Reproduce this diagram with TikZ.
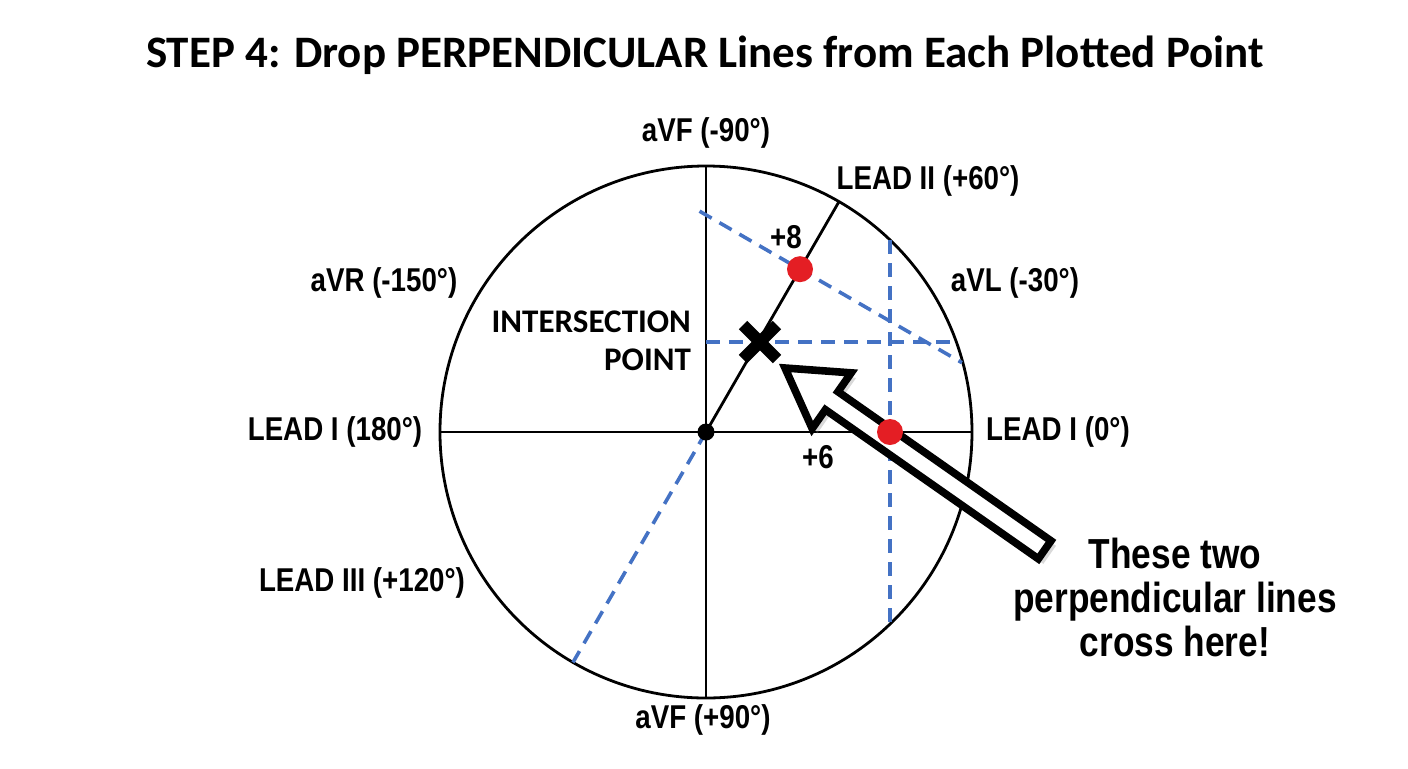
\documentclass[tikz,border=0pt]{standalone}
\usepackage{fontspec}
\setmainfont{Carlito}
\newfontfamily\lblfont{Liberation Sans}[FakeStretch=0.84]
\usetikzlibrary{shadows}
\definecolor{dashblue}{RGB}{68,114,196}
\definecolor{dotred}{RGB}{228,30,36}
\tikzset{
  lbl/.style={font=\lblfont\bfseries\fontsize{16.5}{18}\selectfont},
  ilbl/.style={font=\bfseries\fontsize{16.5}{19}\selectfont,align=right},
  biglbl/.style={font=\lblfont\bfseries\fontsize{21}{22}\selectfont,align=center},
  axis/.style={line width=1.4pt},
  perp/.style={dashblue,line width=1.8pt,dash pattern=on 7pt off 4.5pt},
  reddot/.style={circle,fill=dotred,inner sep=0pt,minimum size=13pt},
  blackdot/.style={circle,fill=black,inner sep=0pt,minimum size=8.5pt},
  xmark/.style={line width=6pt},
  bigarrow/.style={fill=white,line width=3.8pt,line join=miter,
    drop shadow={shadow xshift=2.5pt,shadow yshift=-2.5pt,opacity=0.3}}
}
\begin{document}
\begin{tikzpicture}[x=0.5pt,y=0.5pt]
  \useasboundingbox (-706,-336) rectangle (702,432);
  \node[font=\bfseries\fontsize{22.5}{26}\selectfont] (title) at (-1,377)
    {STEP 4: Drop PERPENDICULAR Lines from Each Plotted Point};
  % hexaxial circle
  \draw[axis] (0,0) circle (266);
  \draw[axis] (180:266) -- (0:266);
  \draw[axis] (90:266) -- (270:266);
  \draw[axis] (0,0) -- (60:266);
  \draw[perp] (0,0) -- (240:266);
  % plotted points
  \coordinate (ptII) at (60:188);
  \coordinate (ptI) at (184,0);
  \coordinate (X) at (54,90);
  % perpendicular lines
  \draw[perp] ([shift={(150:116)}]ptII) -- ([shift={(-30:187)}]ptII);
  \draw[perp] (184,192) -- (184,-192);
  \draw[perp] (0,90) -- (250,90);
  % intersection mark
  \draw[xmark] ([shift={(-17,-17)}]X) -- ([shift={(17,17)}]X);
  \draw[xmark] ([shift={(-17,17)}]X) -- ([shift={(17,-17)}]X);
  % arrow
  \begin{scope}[shift={(79,64)},rotate=-35]
    \draw[bigarrow] (0,0) -- (57,34) -- (57,11) -- (317,11) -- (317,-11)
      -- (57,-11) -- (57,-34) -- cycle;
  \end{scope}
  \node[blackdot] (O) at (0,0) {};
  \node[reddot] (dotII) at (ptII) {};
  \node[reddot] (dotI) at (ptI) {};
  % labels
  \node[lbl] (avfTop) at (0,299) {aVF (-90°)};
  \node[lbl] (leadII) at (222,251) {LEAD II (+60°)};
  \node[lbl] (avl) at (309,149) {aVL (-30°)};
  \node[lbl] (avr) at (-322,149) {aVR (-150°)};
  \node[lbl] (leadIleft) at (-371,0) {LEAD I (180°)};
  \node[lbl] (leadIright) at (352,0) {LEAD I (0°)};
  \node[lbl] (leadIII) at (-344,-151) {LEAD III (+120°)};
  \node[lbl] (avfBot) at (-3,-288) {aVF (+90°)};
  \node[lbl] (plus8) at (80,195) {+8};
  \node[lbl] (plus6) at (112,-25) {+6};
  \node[ilbl,anchor=east] (isect) at (-8,91) {INTERSECTION\\POINT};
  \node[biglbl] (note) at (469,-165) {These two\\perpendicular lines\\cross here!};
\end{tikzpicture}
\end{document}
